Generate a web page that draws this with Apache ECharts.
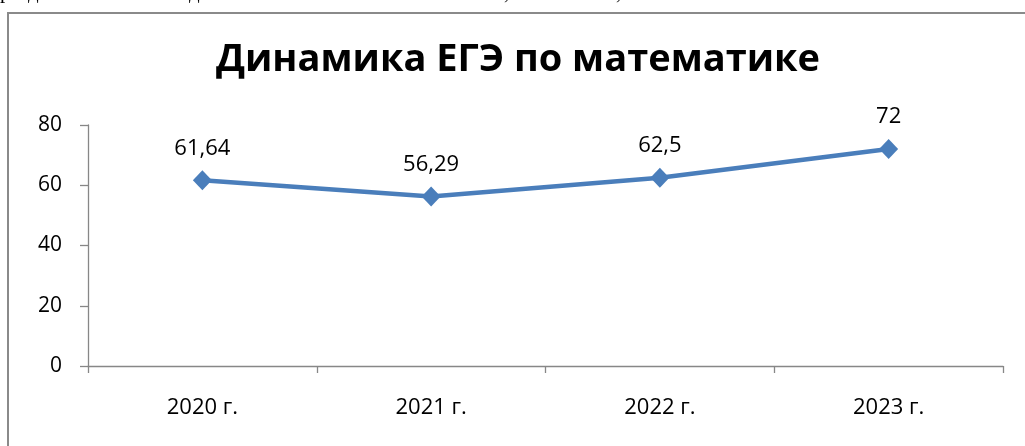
<!DOCTYPE html>
<html>
<head>
<meta charset="utf-8">
<script src="https://cdn.jsdelivr.net/npm/echarts@6/dist/echarts.min.js"></script>
<style>
html,body{margin:0;padding:0;background:#fff;}
#chart{width:1025px;height:446px;}
</style>
</head>
<body>
<div id="chart"></div>
<script>
var titleText = 'Динамика ЕГЭ по математике';
var categories = ['2020 г.', '2021 г.', '2022 г.', '2023 г.'];
var values = [61.64, 56.29, 62.5, 72];
var valueLabels = ['61,64', '56,29', '62,5', '72'];
var yTicks = [0, 20, 40, 60, 80];

var FONT = '"Open Sans", "Noto Sans", sans-serif';
var axisColor = '#878787';

var chart = echarts.init(document.getElementById('chart'), null, {renderer: 'canvas'});
chart.setOption({
  animation: false,
  backgroundColor: '#ffffff',
  graphic: [
    {type: 'rect', shape: {x: 8, y: 13, width: 1100, height: 500},
     style: {fill: 'none', stroke: '#8a8a8a', lineWidth: 2}, silent: true},
    {type: 'text', x: 518, y: 41, style: {text: titleText, align: 'center', verticalAlign: 'top',
      font: 'bold 38px "Open Sans", "Noto Sans", sans-serif', fill: '#000'}},
    {type: 'text', x: 0, y: -18, style: {text: 'р', font: '21px "Liberation Serif"', fill: '#000'}},
    {type: 'text', x: 28, y: -18, style: {text: 'д', font: '21px "Liberation Serif"', fill: '#000'}},
    {type: 'text', x: 189, y: -18, style: {text: 'д', font: '21px "Liberation Serif"', fill: '#000'}},
    {type: 'text', x: 504, y: -17, style: {text: ',', font: '21px "Liberation Serif"', fill: '#000'}},
    {type: 'text', x: 616, y: -17, style: {text: ',', font: '21px "Liberation Serif"', fill: '#000'}}
  ],
  grid: {left: 88, right: 22, top: 125, bottom: 80, containLabel: false},
  xAxis: {
    type: 'category',
    data: categories,
    boundaryGap: true,
    axisLine: {lineStyle: {color: axisColor, width: 1.3}},
    axisTick: {show: true, length: 7, alignWithLabel: false, lineStyle: {color: axisColor, width: 1.3}},
    axisLabel: {fontFamily: FONT, fontSize: 22, color: '#000', margin: 31},
    splitLine: {show: false}
  },
  yAxis: {
    type: 'value',
    min: yTicks[0],
    max: yTicks[yTicks.length - 1],
    interval: yTicks[1] - yTicks[0],
    axisLine: {show: true, lineStyle: {color: axisColor, width: 1.3}},
    axisTick: {show: true, length: 8, inside: false, lineStyle: {color: axisColor, width: 1.3}},
    axisLabel: {fontFamily: FONT, fontSize: 21, color: '#000', margin: 26},
    splitLine: {show: false}
  },
  series: [{
    type: 'line',
    data: values,
    symbol: 'diamond',
    symbolSize: [19, 20],
    lineStyle: {color: '#4A7EBB', width: 4.5},
    itemStyle: {color: '#4A7EBB'},
    label: {
      show: true,
      position: 'top',
      distance: 11,
      fontFamily: FONT,
      fontSize: 22,
      color: '#000',
      formatter: function (p) { return valueLabels[p.dataIndex]; }
    }
  }]
});
</script>
</body>
</html>
